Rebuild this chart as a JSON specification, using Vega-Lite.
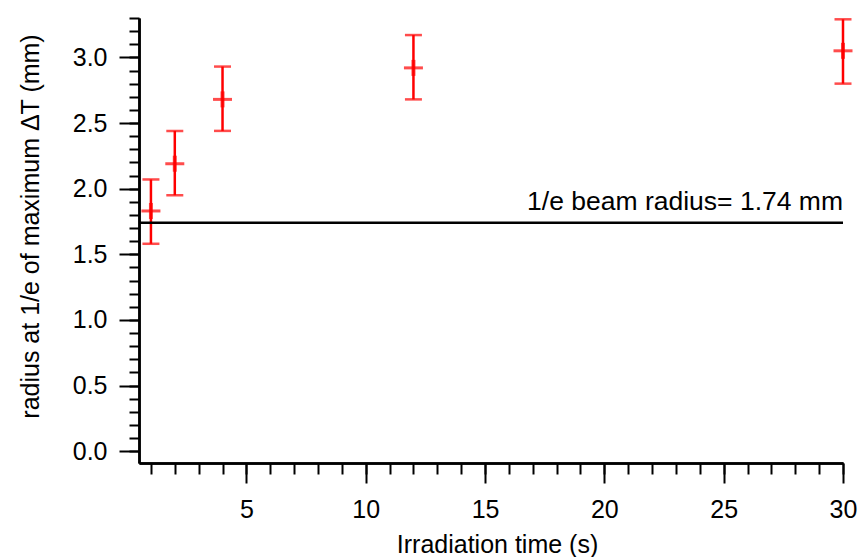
{
  "$schema": "https://vega.github.io/schema/vega-lite/v6.json",
  "width": 704,
  "height": 445,
  "autosize": "none",
  "padding": {"left": 139, "top": 18, "right": 18, "bottom": 94},
  "background": "white",
  "config": {
    "view": {"stroke": null},
    "font": "Liberation Sans",
    "axis": {
      "grid": false,
      "domainColor": "black",
      "domainWidth": 2.5,
      "tickColor": "black",
      "tickWidth": 2,
      "labelColor": "black",
      "titleColor": "black",
      "labelFont": "Liberation Sans",
      "titleFont": "Liberation Sans",
      "labelFontSize": 25,
      "titleFontSize": 25,
      "titleFontWeight": "normal"
    }
  },
  "data": {
    "values": [
      {"t": 1, "r": 1.83, "lo": 1.58, "hi": 2.07},
      {"t": 2, "r": 2.19, "lo": 1.95, "hi": 2.44},
      {"t": 4, "r": 2.68, "lo": 2.44, "hi": 2.93},
      {"t": 12, "r": 2.92, "lo": 2.68, "hi": 3.17},
      {"t": 30, "r": 3.05, "lo": 2.8, "hi": 3.29}
    ]
  },
  "resolve": {"axis": {"x": "independent", "y": "independent"}},
  "layer": [
    {
      "mark": {"type": "rule", "color": "#ff0000", "strokeWidth": 2.5},
      "encoding": {
        "x": {
          "field": "t", "type": "quantitative",
          "scale": {"domain": [0.5, 30], "nice": false, "zero": false},
          "axis": {
            "orient": "bottom",
            "values": [5, 10, 15, 20, 25, 30],
            "tickSize": 20,
            "labelPadding": 14,
            "labelFlush": false,
            "title": "Irradiation time (s)",
            "titleX": 358,
            "titleY": 89,
            "titleBaseline": "alphabetic",
            "titleAnchor": "middle"
          }
        },
        "y": {
          "field": "lo", "type": "quantitative",
          "scale": {"domain": [-0.09, 3.3], "nice": false, "zero": false},
          "axis": {
            "orient": "left",
            "values": [0, 0.5, 1, 1.5, 2, 2.5, 3],
            "format": ".1f",
            "tickSize": 20,
            "labelPadding": 12,
            "labelFlush": false,
            "title": "radius at 1/e of maximum \u0394T (mm)",
            "titleX": -101,
            "titleY": 208,
            "titleAngle": -90,
            "titleBaseline": "alphabetic",
            "titleAnchor": "middle"
          }
        },
        "y2": {"field": "hi"}
      }
    },
    {
      "mark": {"type": "tick", "color": "#ff0000", "thickness": 2.5, "size": 17, "orient": "horizontal"},
      "encoding": {
        "x": {
          "field": "t", "type": "quantitative",
          "axis": {
            "orient": "bottom",
            "values": [1,2,3,4,5,6,7,8,9,10,11,12,13,14,15,16,17,18,19,20,21,22,23,24,25,26,27,28,29,30],
            "tickSize": 11,
            "labels": false,
            "title": null
          }
        },
        "y": {
          "field": "lo", "type": "quantitative",
          "axis": {
            "orient": "left",
            "values": [0,0.1,0.2,0.3,0.4,0.5,0.6,0.7,0.8,0.9,1,1.1,1.2,1.3,1.4,1.5,1.6,1.7,1.8,1.9,2,2.1,2.2,2.3,2.4,2.5,2.6,2.7,2.8,2.9,3,3.1,3.2,3.3],
            "tickSize": 10,
            "labels": false,
            "title": null
          }
        }
      }
    },
    {
      "mark": {"type": "tick", "color": "#ff0000", "thickness": 2.5, "size": 17, "orient": "horizontal"},
      "encoding": {
        "x": {"field": "t", "type": "quantitative", "axis": null},
        "y": {"field": "hi", "type": "quantitative", "axis": null}
      }
    },
    {
      "mark": {"type": "tick", "color": "#ff0000", "thickness": 3, "size": 19, "orient": "horizontal"},
      "encoding": {
        "x": {"field": "t", "type": "quantitative", "axis": null},
        "y": {"field": "r", "type": "quantitative", "axis": null}
      }
    },
    {
      "mark": {"type": "tick", "color": "#ff0000", "thickness": 4, "size": 16, "orient": "vertical"},
      "encoding": {
        "x": {"field": "t", "type": "quantitative", "axis": null},
        "y": {"field": "r", "type": "quantitative", "axis": null}
      }
    },
    {
      "data": {"values": [{"beam": 1.74, "label": "1/e beam radius= 1.74 mm", "tx": 30}]},
      "mark": {"type": "rule", "color": "black", "strokeWidth": 2.5},
      "encoding": {
        "y": {"field": "beam", "type": "quantitative", "axis": null}
      }
    },
    {
      "data": {"values": [{"beam": 1.74, "label": "1/e beam radius= 1.74 mm", "tx": 30}]},
      "mark": {"type": "text", "align": "right", "baseline": "alphabetic", "dy": -13, "fontSize": 26.5, "font": "Liberation Sans", "color": "black"},
      "encoding": {
        "x": {"field": "tx", "type": "quantitative", "axis": null},
        "y": {"field": "beam", "type": "quantitative", "axis": null},
        "text": {"field": "label"}
      }
    }
  ]
}
